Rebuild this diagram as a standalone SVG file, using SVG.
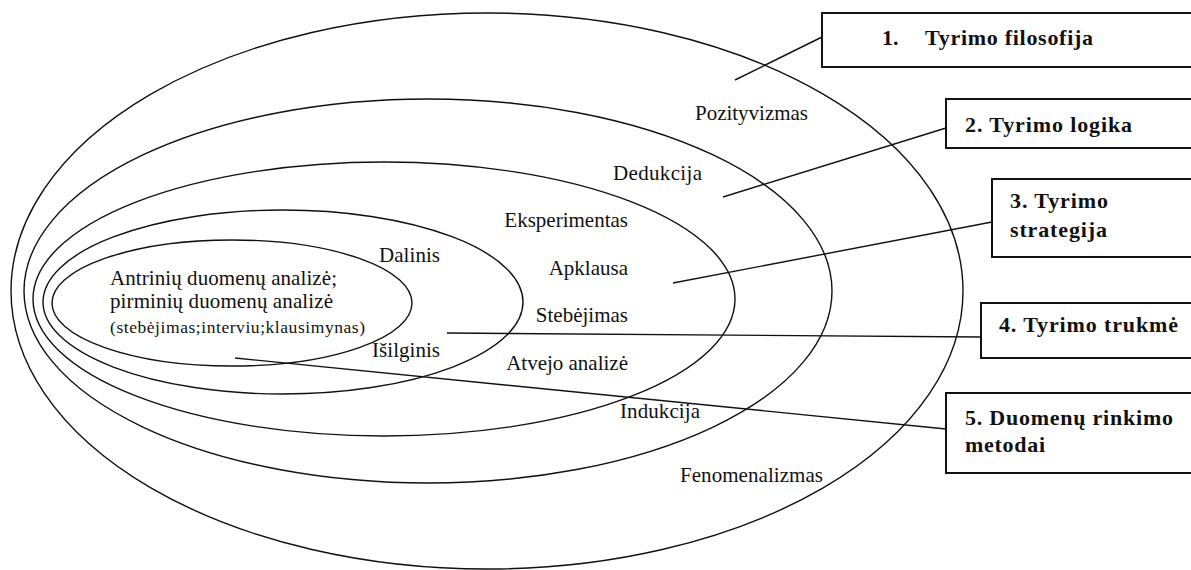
<svg xmlns="http://www.w3.org/2000/svg" width="1191" height="570" viewBox="0 0 1191 570">
<style>
.ring{fill:none;stroke:#111;stroke-width:1.4}
.box{fill:#fff;stroke:#111;stroke-width:2}
.conn{fill:none;stroke:#111;stroke-width:1.4}
.lbl{font-family:"Liberation Serif","Times New Roman",serif;font-size:21px;fill:#111}
.small{font-family:"Liberation Serif","Times New Roman",serif;font-size:17.5px;fill:#111}
.bt{font-family:"Liberation Serif","Times New Roman",serif;font-size:22px;font-weight:bold;fill:#111}
</style>
<rect width="1191" height="570" fill="#fff"/>
<g id="ring1">
<ellipse class="ring" cx="487" cy="291" rx="476" ry="278"/>
<text class="lbl" x="695" y="120" textLength="113">Pozityvizmas</text>
<text class="lbl" x="680" y="482" textLength="143">Fenomenalizmas</text>
</g>
<g id="ring2">
<ellipse class="ring" cx="428" cy="291" rx="404" ry="192"/>
<text class="lbl" x="613" y="180" textLength="89">Dedukcija</text>
<text class="lbl" x="620" y="418" textLength="80">Indukcija</text>
</g>
<g id="ring3">
<ellipse class="ring" cx="384" cy="299" rx="351" ry="137"/>
<text class="lbl" x="628" y="227" text-anchor="end">Eksperimentas</text>
<text class="lbl" x="628" y="275" text-anchor="end">Apklausa</text>
<text class="lbl" x="628" y="322" text-anchor="end">Stebėjimas</text>
<text class="lbl" x="628" y="370" text-anchor="end">Atvejo analizė</text>
</g>
<g id="ring4">
<ellipse class="ring" cx="283" cy="302" rx="240" ry="92"/>
<text class="lbl" x="379" y="262" textLength="61">Dalinis</text>
<text class="lbl" x="372" y="357" textLength="68">Išilginis</text>
</g>
<g id="ring5">
<ellipse class="ring" cx="232" cy="303" rx="180" ry="63"/>
<text class="lbl" x="110" y="285" textLength="227">Antrinių duomenų analizė;</text>
<text class="lbl" x="110" y="308" textLength="223">pirminių duomenų analizė</text>
<text class="small" x="110" y="333" textLength="255">(stebėjimas;interviu;klausimynas)</text>
</g>
<g id="connectors">
<line class="conn" x1="735" y1="80" x2="822" y2="37"/>
<line class="conn" x1="723" y1="197" x2="946" y2="128"/>
<line class="conn" x1="673" y1="283" x2="992" y2="222"/>
<line class="conn" x1="447" y1="333" x2="981" y2="337"/>
<line class="conn" x1="235" y1="358" x2="946" y2="429"/>
</g>
<g id="box1">
<rect class="box" x="822" y="13" width="380" height="54"/>
<text class="bt" x="882" y="45">1.</text>
<text class="bt" x="925" y="45" textLength="168">Tyrimo filosofija</text>
</g>
<g id="box2">
<rect class="box" x="946" y="99" width="256" height="49"/>
<text class="bt" x="965" y="132" textLength="167">2. Tyrimo logika</text>
</g>
<g id="box3">
<rect class="box" x="992" y="179" width="210" height="78"/>
<text class="bt" x="1010" y="208" textLength="98">3. Tyrimo</text>
<text class="bt" x="1010" y="237" textLength="97">strategija</text>
</g>
<g id="box4">
<rect class="box" x="981" y="303" width="221" height="55"/>
<text class="bt" x="999" y="332" textLength="179">4. Tyrimo trukmė</text>
</g>
<g id="box5">
<rect class="box" x="946" y="393" width="256" height="80"/>
<text class="bt" x="965" y="425" textLength="208">5. Duomenų rinkimo</text>
<text class="bt" x="965" y="452" textLength="80">metodai</text>
</g>
</svg>
